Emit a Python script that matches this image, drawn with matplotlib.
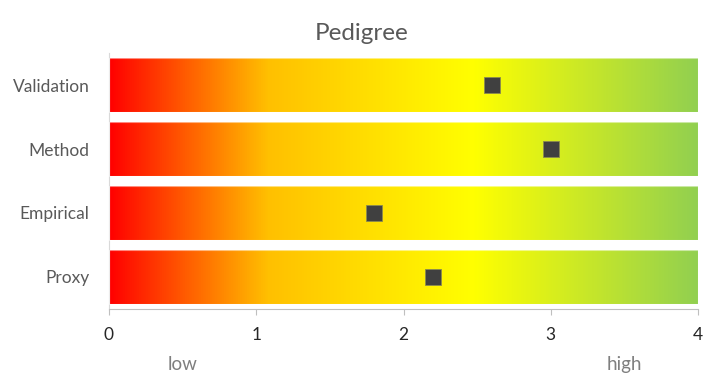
import numpy as np
import matplotlib.pyplot as plt
from matplotlib.colors import LinearSegmentedColormap
from matplotlib.transforms import blended_transform_factory

categories = ["Validation", "Method", "Empirical", "Proxy"]
values = [2.6, 3.0, 1.8, 2.2]
scale_max = 4
xticks = [0, 1, 2, 3, 4]
end_labels = ["low", "high"]
end_label_pos = [0.5, 3.5]

plt.rcParams['font.family'] = ['Lato', 'DejaVu Sans']

fig = plt.figure(figsize=(7.03, 3.74), dpi=100)
ax = fig.add_axes([109/703, 1-309/374, (698-109)/703, 256/374])

cmap = LinearSegmentedColormap.from_list(
    "ped", [(0.0, "#FF0000"), (0.27, "#FFC000"), (0.62, "#FFFF00"), (1.0, "#92D050")])
grad = np.linspace(0, 1, 512).reshape(1, -1)

ypos = np.arange(len(categories))[::-1]
bars = ax.barh(ypos, [scale_max]*len(categories), height=0.83, color="none",
               edgecolor=(1, 1, 1, 0.5), linewidth=0.8, zorder=3)
for b in bars:
    x0, y0 = b.get_x(), b.get_y()
    w, h = b.get_width(), b.get_height()
    im = ax.imshow(grad, cmap=cmap, aspect="auto", extent=[x0, x0+w, y0, y0+h],
                   zorder=2, interpolation="bilinear")
    im.set_clip_path(b)

ax.plot(values, ypos, linestyle="none", marker="s", markersize=11.5,
        markerfacecolor="#404040", markeredgecolor="#8a8a50", markeredgewidth=0.6, zorder=5)

ax.set_xlim(0, scale_max)
ax.set_ylim(-0.5, len(categories)-0.5)
ax.set_xticks(xticks)
ax.set_xticklabels([str(t) for t in xticks], fontsize=12.5, color="#262626")
ax.set_yticks(ypos)
ax.set_yticklabels(categories, fontsize=12.5, color="#595959")
ax.tick_params(axis="x", length=4, width=0.8, color="#bfbfbf", pad=9)
ax.tick_params(axis="y", length=0, pad=14)
for s in ["top", "right"]:
    ax.spines[s].set_visible(False)
ax.spines["bottom"].set_color("#bfbfbf")
ax.spines["left"].set_color("#d9d9d9")
ax.spines["bottom"].set_zorder(6)

fig.text(362/703, 1-33/374, "Pedigree", fontsize=17.5, color="#595959",
         ha="center", va="center")

tr = blended_transform_factory(ax.transData, ax.transAxes)
for lab, px in zip(end_labels, end_label_pos):
    ax.text(px, -0.215, lab, transform=tr, ha="center", va="center",
            fontsize=13.5, color="#7f7f7f")

fig.savefig("out.png", dpi=100)
